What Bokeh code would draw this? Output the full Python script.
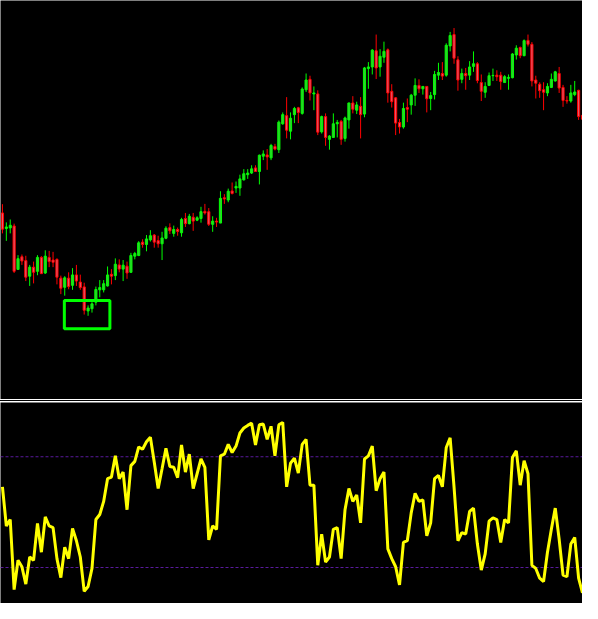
from bokeh.plotting import figure
from bokeh.models import ColumnDataSource, Range1d, Span, Div
from bokeh.layouts import column
from bokeh.embed import file_html
from bokeh.resources import INLINE

# ---- price data (arbitrary price points) ----
opens = [191.7,175.7,176.3,178.3,133.7,146.7,142.7,126.7,136.0,131.7,
         146.0,130.0,146.0,143.3,144.0,124.7,115.3,124.7,117.3,128.0,
         120.7,115.7,91.0,93.3,100.0,112.7,112.7,116.7,128.7,127.3,
         138.3,134.0,137.0,130.7,147.3,148.0,161.7,159.3,164.0,169.0,
         163.3,160.0,165.7,176.7,170.7,174.7,171.3,186.0,180.7,187.3,
         184.3,186.0,193.3,193.0,180.0,183.3,181.3,207.3,205.0,214.3,
         217.3,217.3,225.7,231.0,232.7,238.0,234.3,250.0,251.3,248.3,
         260.0,256.7,283.3,291.7,275.7,292.7,299.7,294.0,318.3,329.0,
         314.0,314.0,275.0,290.7,267.3,269.3,283.3,285.7,268.3,287.3,
         304.7,297.3,301.3,293.3,340.0,341.7,358.3,341.7,351.7,359.3,
         316.7,310.0,284.7,280.0,300.0,302.7,312.7,322.7,319.3,321.7,
         309.3,313.3,333.3,335.0,333.3,363.3,375.0,349.0,329.0,335.0,
         333.3,342.3,345.0,325.7,315.7,322.7,332.7,333.3,333.3,325.7,
         330.0,330.7,354.0,361.7,353.3,369.0,365.0,328.3,324.0,318.3,
         315.0,320.7,327.3,335.0,320.7,307.3,306.7,313.3,317.7,292.0]

highs = [200.7,182.0,185.0,180.7,148.3,149.0,147.7,138.3,141.7,148.3,
         147.3,153.3,152.7,151.7,145.0,127.3,126.7,130.7,135.0,138.3,
         128.3,120.0,96.7,100.0,116.0,122.7,122.7,136.7,134.0,145.0,
         144.0,143.3,141.7,150.7,151.7,162.7,164.7,169.0,174.0,170.0,
         168.3,172.3,178.0,181.0,178.7,176.7,186.7,191.7,190.7,191.7,
         188.3,198.0,201.0,196.7,188.3,186.7,214.0,211.0,216.7,223.0,
         224.0,231.0,236.7,236.7,240.7,240.7,251.7,256.0,257.3,262.7,
         262.7,286.7,295.0,310.7,295.0,300.7,300.7,320.7,335.0,332.7,
         321.7,317.7,291.7,294.0,271.7,294.0,287.3,287.3,290.7,305.0,
         311.7,306.0,310.7,341.7,346.7,360.0,375.0,360.0,367.7,360.7,
         324.0,310.7,288.3,305.0,309.3,314.0,330.0,329.0,321.7,321.7,
         316.0,337.7,346.0,346.7,366.0,377.7,381.7,352.7,340.0,340.7,
         347.7,357.7,346.7,334.0,326.0,336.0,340.0,338.3,336.7,333.3,
         334.0,356.0,364.0,362.7,370.0,375.0,367.3,332.7,326.0,326.0,
         325.0,335.0,337.7,341.7,323.3,311.7,323.3,327.3,318.3,294.0]

lows = [170.7,163.0,170.7,130.0,133.3,138.3,121.7,116.7,119.3,127.7,
        129.0,129.0,136.0,136.0,118.3,108.3,106.7,113.3,112.7,116.7,
        112.7,87.3,86.0,89.3,96.7,105.0,110.0,116.0,118.3,122.7,
        130.7,121.7,124.0,130.0,144.0,147.3,156.0,152.3,162.3,156.0,
        156.0,143.3,164.7,170.0,167.3,168.3,167.3,177.3,180.0,173.3,
        183.3,181.7,190.0,178.3,172.3,177.3,181.3,201.0,202.7,210.7,
        212.3,209.3,225.0,226.7,231.7,234.0,221.0,246.0,236.0,246.0,
        256.0,253.3,282.3,268.3,267.3,284.0,284.0,292.7,316.0,307.3,
        297.3,271.7,273.3,260.7,256.7,269.3,269.3,261.7,265.0,278.3,
        294.0,293.3,268.3,290.0,319.3,334.0,329.3,331.7,346.0,305.0,
        300.0,271.7,273.3,278.3,285.0,292.7,301.7,315.0,313.3,295.0,
        297.3,308.3,328.3,328.3,331.7,357.7,345.0,317.3,325.0,318.3,
        328.3,336.7,325.0,306.7,310.0,322.7,327.3,327.3,318.3,325.7,
        318.3,330.0,349.3,350.7,352.7,362.7,321.7,309.3,310.0,297.3,
        311.7,320.0,326.7,315.0,300.7,304.0,305.0,311.7,287.3,284.0]

closes = [175.0,177.3,179.0,131.7,144.7,142.3,125.7,136.0,130.7,146.0,
          129.3,147.3,141.7,141.0,125.7,114.3,125.0,116.0,128.0,121.7,
          115.0,91.7,94.0,98.3,113.0,115.0,119.0,128.0,126.7,139.0,
          134.0,138.0,130.0,148.0,150.0,161.0,159.3,165.0,168.3,161.7,
          160.0,166.0,176.0,173.3,174.7,172.7,185.0,180.7,188.3,183.3,
          186.7,193.0,191.7,180.0,183.3,182.3,206.7,206.0,214.0,211.7,
          219.0,226.7,232.0,232.7,237.0,234.3,251.0,252.3,249.3,261.0,
          257.3,285.0,292.7,276.7,289.0,299.0,295.0,319.0,328.3,315.0,
          315.0,274.7,290.7,269.3,270.7,283.3,284.7,267.3,289.3,304.7,
          298.3,302.7,292.7,340.7,341.7,359.0,340.7,352.7,357.7,315.0,
          306.0,284.0,280.0,299.0,298.3,312.7,322.7,319.3,321.7,309.0,
          312.3,334.0,336.0,332.3,364.0,374.0,350.7,328.3,335.0,332.7,
          341.7,345.0,327.7,316.7,321.7,332.7,333.0,331.7,326.7,331.7,
          331.0,355.0,361.0,353.3,368.7,365.0,327.3,325.0,317.3,315.7,
          321.7,329.0,336.7,320.0,307.3,306.7,315.0,316.0,290.7,288.0]

# ---- oscillator (stochastic %K) ----
stoch = [63.7,42.5,46.0,8.0,23.9,20.4,11.0,25.7,23.9,43.9,
         28.3,47.4,42.5,41.6,24.8,14.5,31.0,24.8,41.1,34.5,
         25.7,7.1,9.7,19.5,46.0,48.7,55.8,68.1,69.0,80.5,
         68.1,71.7,51.3,75.2,77.5,85.3,84.1,88.1,90.6,77.0,
         62.8,73.5,84.6,74.7,74.3,68.7,86.4,71.7,81.4,62.8,
         70.8,78.8,74.3,35.0,42.5,40.7,80.5,81.4,86.7,82.3,
         85.8,92.9,95.6,97.0,98.2,86.4,97.3,97.7,89.4,96.5,
         80.5,97.3,98.6,63.7,76.5,79.3,71.2,86.7,89.4,64.6,
         64.6,21.2,38.1,23.0,25.7,40.7,41.6,24.8,51.3,62.8,
         55.8,59.3,44.2,78.8,80.5,85.8,61.6,68.1,71.7,30.1,
         24.8,20.4,10.6,33.6,34.5,49.6,60.2,55.8,56.6,37.2,
         44.2,68.1,69.9,63.7,85.0,90.3,63.7,34.5,38.9,38.1,
         50.4,52.2,32.7,18.6,27.4,45.1,46.9,46.0,33.6,46.0,
         44.2,79.6,83.2,64.6,77.9,70.8,21.2,19.5,14.2,12.4,
         28.3,40.7,52.2,35.4,15.9,15.0,32.7,36.3,14.2,6.2]

levels = [80, 20]

# highlighted low-pivot box (bar index span, price span)
box_bars = [15.9, 27.6]
box_prices = [72.8, 101.7]

BULL_LINE, BULL_FILL = "#00ff00", "#33cc33"
BEAR_LINE, BEAR_FILL = "#ff0000", "#e65a6e"

n = len(opens)
idx = list(range(n))
bull = [c >= o for o, c in zip(opens, closes)]
src = ColumnDataSource(dict(
    x=idx, o=opens, h=highs, l=lows, c=closes,
    top=[max(o, c) for o, c in zip(opens, closes)],
    bottom=[min(o, c) for o, c in zip(opens, closes)],
    line=[BULL_LINE if b else BEAR_LINE for b in bull],
    fill=[BULL_FILL if b else BEAR_FILL for b in bull],
))

W = 582
x_range = Range1d(-0.5, 149.0)

top = figure(width=W, height=399, x_range=x_range, y_range=Range1d(0, 410),
             output_backend="svg", toolbar_location=None,
             x_axis_type=None, y_axis_type=None,
             background_fill_color="black", border_fill_color="black",
             outline_line_color=None, min_border=0)
top.segment(x0="x", y0="l", x1="x", y1="h", line_color="line", line_width=1, source=src)
top.vbar(x="x", width=0.55, top="top", bottom="bottom",
         fill_color="fill", line_color="line", line_width=1, source=src)
top.quad(left=[box_bars[0]], right=[box_bars[1]], bottom=[box_prices[0]], top=[box_prices[1]],
         fill_color=None, line_color="#00ff00", line_width=3)

sep = Div(text="", width=W, height=3, margin=0,
          styles={"background-color": "#000000", "border-top": "1px solid #ffffff",
                  "border-bottom": "1px solid #ffffff", "box-sizing": "border-box"})

bot = figure(width=W, height=201, x_range=x_range, y_range=Range1d(0.5, 109.4),
             output_backend="svg", toolbar_location=None,
             x_axis_type=None, y_axis_type=None,
             background_fill_color="black", border_fill_color="black",
             outline_line_color=None, min_border=0)
for lv in levels:
    bot.add_layout(Span(location=lv, dimension="width", line_color="#5a1a9c",
                        line_dash="3 2", line_width=1, level="underlay"))
bot.line(idx, stoch, line_color="#ffff00", line_width=3)

layout = column(top, sep, bot, spacing=0)
open("out.html", "w").write(file_html(layout, INLINE))
